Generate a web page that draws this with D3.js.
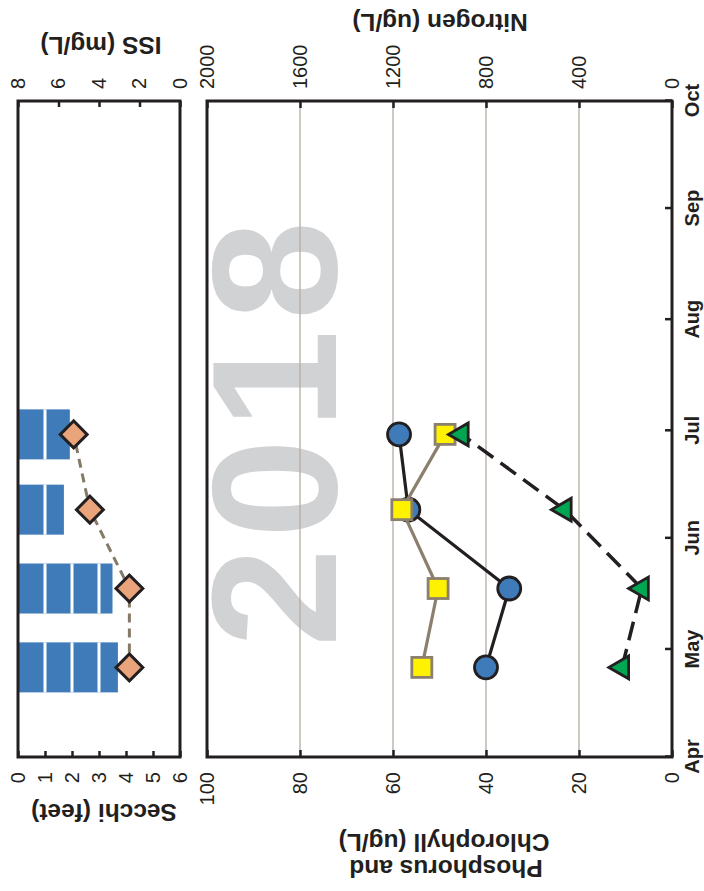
<!DOCTYPE html>
<html><head><meta charset="utf-8">
<script src="https://cdn.jsdelivr.net/npm/d3@7"></script>
<style>
html,body{margin:0;padding:0;background:#fff;}
svg{display:block;}
text{font-family:Arial,"Liberation Sans",sans-serif;fill:#231f20;}
</style></head>
<body><svg id="c" width="704" height="891"></svg>
<script>
// ---- data ----
const sampleDates = ["2018-04-26","2018-05-18","2018-06-09","2018-06-30"];
const phosphorus = [40, 35, 56.7, 58.7];      // circles, ug/L (left axis)
const chlorophyll = [53.8, 50.3, 58.1, 48.8]; // squares, ug/L (left axis)
const nitrogen = [215, 130, 462, 905];        // triangles, ug/L (right axis)
const secchi = [3.7, 3.5, 1.7, 1.92];         // feet (bars)
const iss = [2.5, 2.5, 4.45, 5.25];           // mg/L (diamonds)
const monthTicks = ["2018-04-01","2018-05-01","2018-06-01","2018-07-01","2018-08-01","2018-09-01","2018-10-01"];
const monthLabels = ["Apr","May","Jun","Jul","Aug","Sep","Oct"];
const pcTicks = [0,20,40,60,80,100];
const nTicks = [0,400,800,1200,1600,2000];
const secchiTicks = [0,1,2,3,4,5,6];
const issTicks = [0,2,4,6,8];
const yearLabel = "2018";

const parse = s => new Date(s + "T00:00:00Z");
const dates = sampleDates.map(parse);
const mDates = monthTicks.map(parse);

const svg = d3.select("#c");
// chart is drawn in landscape then rotated -90deg
const g = svg.append("g").attr("transform","translate(0,891) rotate(-90)");

const x = d3.scaleUtc().domain([mDates[0], mDates[mDates.length-1]]).range([134, 790]);
const yL = d3.scaleLinear().domain([0,100]).range([672,207]);
const yR = d3.scaleLinear().domain([0,2000]).range([672,207]);
const yS = d3.scaleLinear().domain([0,6]).range([18,180]);
const yI = d3.scaleLinear().domain([0,8]).range([180,18]);

const ink = "#231f20", tan = "#8b7f6d", grid = "#b3aca2";

// ---------- main panel ----------
// watermark
g.append("text").attr("x", 244).attr("y", 336).attr("text-anchor","start")
  .style("font-size","178px").style("font-weight","bold").style("letter-spacing","10px").style("fill","#d1d2d4")
  .text(yearLabel);
// gridlines
g.append("g").selectAll("line").data(pcTicks.filter(d=>d>0&&d<100)).join("line")
  .attr("x1",134).attr("x2",790).attr("y1",d=>yL(d)).attr("y2",d=>yL(d))
  .attr("stroke",grid).attr("stroke-width",1.3);

function styleAxis(sel, size, weight){
  sel.select(".domain").remove();
  sel.selectAll(".tick line").attr("stroke",ink).attr("stroke-width",2.5);
  sel.selectAll(".tick text").style("font-size",size).style("font-weight",weight||"normal").attr("fill",ink);
}
g.append("g").attr("transform","translate(134,0)")
  .call(d3.axisLeft(yL).tickValues(pcTicks).tickSizeInner(-7).tickSizeOuter(0).tickPadding(15).tickFormat(d3.format("d")))
  .call(s=>styleAxis(s,"20px"));
g.append("g").attr("transform","translate(790,0)")
  .call(d3.axisRight(yR).tickValues(nTicks).tickSizeInner(-7).tickSizeOuter(0).tickPadding(12).tickFormat(d3.format("d")))
  .call(s=>styleAxis(s,"20px"));
g.append("g").attr("transform","translate(0,672)")
  .call(d3.axisBottom(x).tickValues(mDates).tickSizeInner(-7).tickSizeOuter(0).tickPadding(13).tickFormat((d,i)=>monthLabels[i]))
  .call(s=>styleAxis(s,"20px","bold"));

// series: circles (phosphorus)
const lineL = (arr) => d3.line().x((d,i)=>x(dates[i])).y(d=>yL(d))(arr);
g.append("path").attr("d", lineL(phosphorus)).attr("fill","none").attr("stroke",ink).attr("stroke-width",3.2);
g.append("g").selectAll("circle").data(phosphorus).join("circle")
  .attr("cx",(d,i)=>x(dates[i])).attr("cy",d=>yL(d)).attr("r",11.5)
  .attr("fill","#3f7bb9").attr("stroke",ink).attr("stroke-width",2.8);
// squares (chlorophyll)
g.append("path").attr("d", lineL(chlorophyll)).attr("fill","none").attr("stroke",tan).attr("stroke-width",3.2);
g.append("g").selectAll("rect").data(chlorophyll).join("rect")
  .attr("x",(d,i)=>x(dates[i])-10).attr("y",d=>yL(d)-10).attr("width",20).attr("height",20)
  .attr("fill","#fff200").attr("stroke",tan).attr("stroke-width",2.8);
// triangles (nitrogen)
g.append("path").attr("d", d3.line().x((d,i)=>x(dates[i])).y(d=>yR(d))(nitrogen))
  .attr("fill","none").attr("stroke",ink).attr("stroke-width",3.5).attr("stroke-dasharray","19,9");
g.append("g").selectAll("path").data(nitrogen).join("path")
  .attr("d", d3.symbol(d3.symbolTriangle, 225)())
  .attr("transform",(d,i)=>`translate(${x(dates[i])},${yR(d)})`)
  .attr("fill","#00a651").attr("stroke",ink).attr("stroke-width",2.8).attr("stroke-linejoin","miter");

// frame
g.append("rect").attr("x",134).attr("y",207).attr("width",656).attr("height",465)
  .attr("fill","none").attr("stroke",ink).attr("stroke-width",3);

// ---------- Secchi / ISS panel ----------
const barW = 50;
const bars = g.append("g");
bars.selectAll("rect").data(secchi).join("rect")
  .attr("x",(d,i)=>x(dates[i])-barW/2).attr("y",yS(0)).attr("width",barW)
  .attr("height",d=>yS(d)-yS(0)).attr("fill","#3f7bb9");
// white foot separators inside bars
secchi.forEach((v,i)=>{
  d3.range(1, Math.ceil(v)).forEach(f=>{
    bars.append("line").attr("x1",x(dates[i])-barW/2).attr("x2",x(dates[i])+barW/2)
      .attr("y1",yS(f)).attr("y2",yS(f)).attr("stroke","#fff").attr("stroke-width",3);
  });
});
g.append("path").attr("d", d3.line().x((d,i)=>x(dates[i])).y(d=>yI(d))(iss))
  .attr("fill","none").attr("stroke","#857a68").attr("stroke-width",3).attr("stroke-dasharray","9,6");
g.append("g").selectAll("rect").data(iss).join("rect")
  .attr("x",-9.5).attr("y",-9.5).attr("width",19).attr("height",19)
  .attr("transform",(d,i)=>`translate(${x(dates[i])},${yI(d)}) rotate(45)`)
  .attr("fill","#e9a47b").attr("stroke",ink).attr("stroke-width",3);

g.append("g").attr("transform","translate(134,0)")
  .call(d3.axisLeft(yS).tickValues(secchiTicks).tickSizeInner(-6).tickSizeOuter(0).tickPadding(15).tickFormat(d3.format("d")))
  .call(s=>styleAxis(s,"20px"));
g.append("g").attr("transform","translate(790,0)")
  .call(d3.axisRight(yI).tickValues(issTicks).tickSizeInner(-6).tickSizeOuter(0).tickPadding(12).tickFormat(d3.format("d")))
  .call(s=>styleAxis(s,"20px"));
g.append("rect").attr("x",134).attr("y",18).attr("width",656).attr("height",162)
  .attr("fill","none").attr("stroke",ink).attr("stroke-width",3);

// ---------- titles ----------
function vtitle(xp, yp, txt){
  g.append("text").attr("transform",`translate(${xp},${yp}) rotate(-90)`).attr("text-anchor","middle")
    .style("font-size","24.5px").style("font-weight","bold").text(txt);
}
vtitle(31, 446, "Phosphorus and");
vtitle(57, 444, "Chlorophyll (ug/L)");
vtitle(87, 104, "Secchi (feet)");
vtitle(854, 101, "ISS (mg/L)");
vtitle(877, 440, "Nitrogen (ug/L)");
</script></body></html>
